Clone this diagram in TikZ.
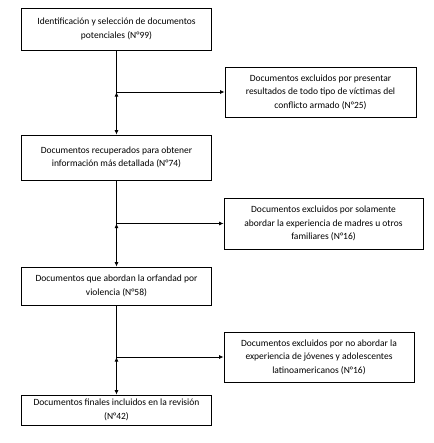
\documentclass[tikz,border=0pt]{standalone}
\usepackage{fontspec}
\setmainfont{Carlito}
\usepackage{tikz}
\usetikzlibrary{arrows.meta}
\tikzstyle{stagebox}=[draw=black, line width=0.8pt, align=center, font=\fontsize{9.5}{13.5}\selectfont, inner sep=0pt]
\tikzstyle{arrow}=[draw=black, line width=0.8pt, >={Latex[length=1.6mm, width=1.4mm]}]

\begin{document}
\begin{tikzpicture}[x=1pt, y=-1pt]
		   \useasboundingbox (0,0) rectangle (433,443);
		   \begin{scope}
			   \node (s1) at (116.5, 29)[stagebox, minimum width=190, minimum height=42] {Identificación y selección de documentos\\potenciales (N°99)};
			   \node (x1) at (320.5, 92)[stagebox, minimum width=191, minimum height=50] {Documentos excluidos por presentar\\resultados de todo tipo de víctimas del\\conflicto armado (N°25)};
			   \node (s2) at (116.5, 157.5)[stagebox, minimum width=190, minimum height=45] {Documentos recuperados para obtener\\información más detallada (N°74)};
			   \node (x2) at (323.5, 223.5)[stagebox, minimum width=199, minimum height=51] {Documentos excluidos por solamente\\abordar la experiencia de madres u otros\\familiares (N°16)};
			   \node (s3) at (116.5, 286)[stagebox, minimum width=190, minimum height=38] {Documentos que abordan la orfandad por\\violencia (N°58)};
			   \node (x3) at (319, 357)[stagebox, minimum width=190, minimum height=50] {Documentos excluidos por no abordar la\\experiencia de jóvenes y adolescentes\\latinoamericanos (N°16)};
			   \node (s4) at (116.5, 410)[stagebox, minimum width=190, minimum height=30] {Documentos finales incluidos en la revisión\\(N°42)};
			   \coordinate (b1) at (116.5, 92);
			   \coordinate (b2) at (116.5, 223.5);
			   \coordinate (b3) at (116.5, 357);
		   \end{scope}
		   \begin{scope}
			   \path [arrow, ->] (s1) edge (s2);
			   \path [arrow, ->] (s2) edge (s3);
			   \path [arrow, ->] (s3) edge (s4);
			   \path [arrow, ->] (b1) edge (x1);
			   \path [arrow, ->] (b2) edge (x2);
			   \path [arrow, ->] (b3) edge (x3);
		   \end{scope}
	   \end{tikzpicture}
\end{document}
